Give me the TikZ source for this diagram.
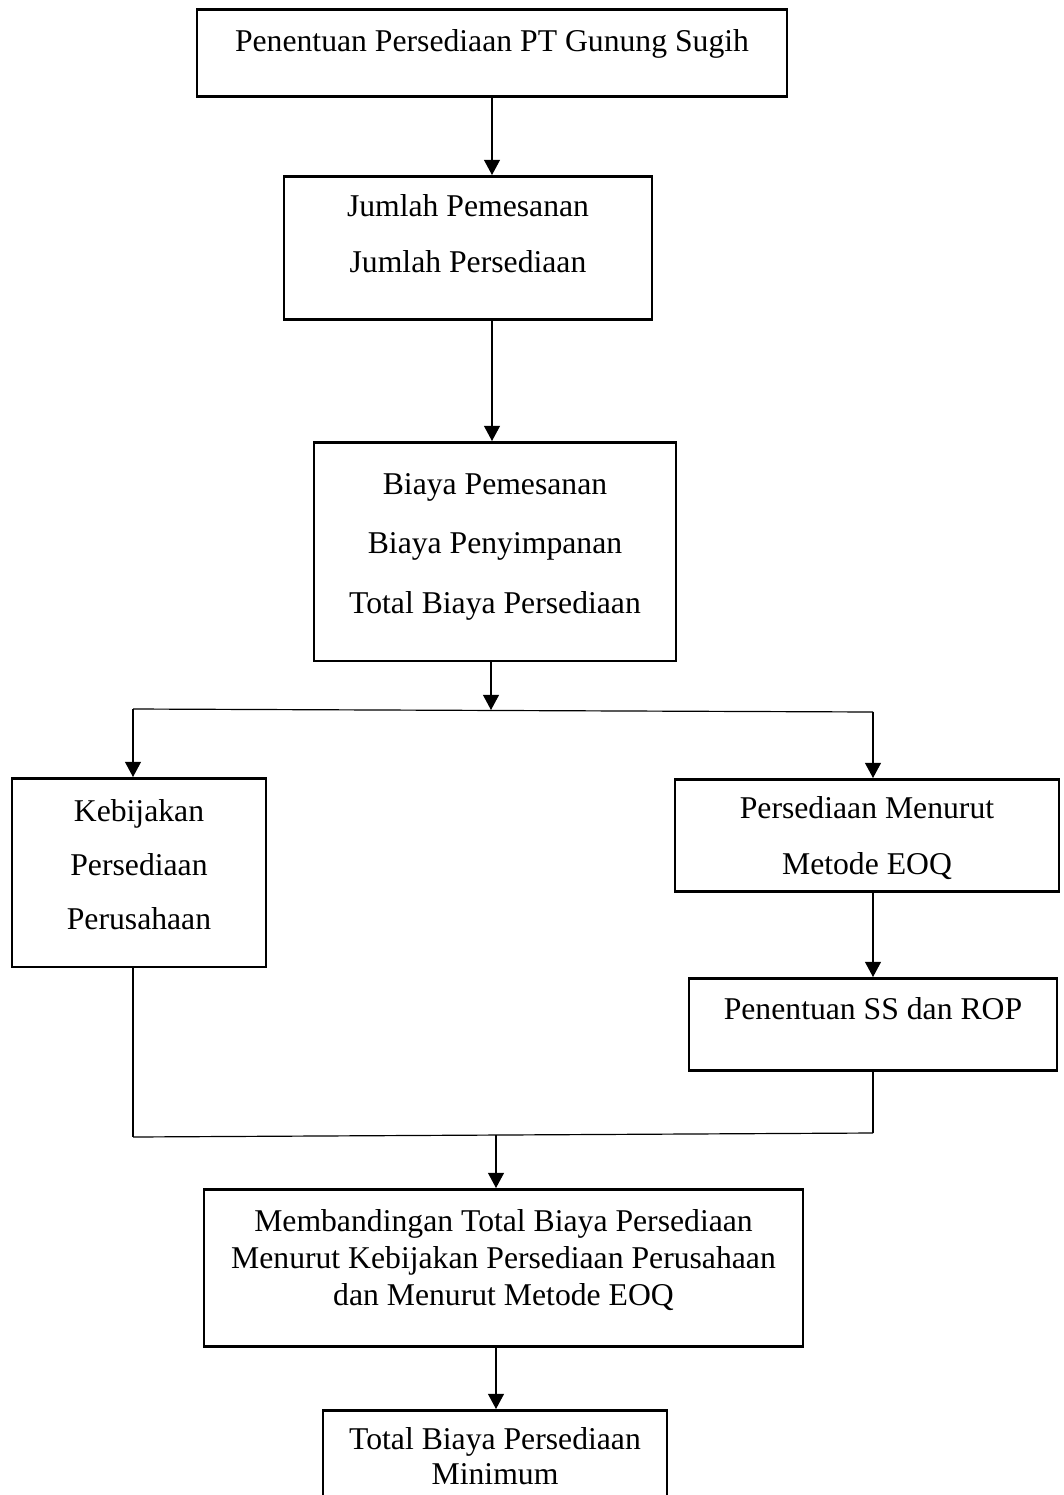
\documentclass[tikz,border=0pt]{standalone}
\usepackage{fontspec}
\setmainfont{Liberation Serif}
\usetikzlibrary{arrows.meta}
\newlength{\pxu}\setlength{\pxu}{0.3787pt}
\newcommand{\uprule}[1]{\rule{0pt}{#1\pxu}}
\newcommand{\dnrule}[1]{\rule[-#1\pxu]{0pt}{0pt}}
\begin{document}
\begin{tikzpicture}[x=0.3787pt,y=-0.3787pt,
	flowbox/.style={draw,line width=1pt,inner sep=0pt,anchor=north,align=center,font=\fontsize{12}{21.2}\selectfont},
	conn/.style={line width=0.45pt},
	arr/.style={conn,-{Triangle[length=5.7pt,width=6pt]}}]
	\useasboundingbox (0,0) rectangle (1063,1495);
	\node[flowbox,minimum width=590*\pxu] (judul) at (492,8) {\uprule{42}Penentuan Persediaan PT Gunung Sugih\dnrule{45}};
	\node[flowbox,minimum width=368*\pxu] (jumlah) at (468,175) {\uprule{40}Jumlah Pemesanan\\Jumlah Persediaan\dnrule{47}};
	\node[flowbox,minimum width=362*\pxu,font=\fontsize{12}{22.5}\selectfont] (biaya) at (495,441)
		{\uprule{52}Biaya Pemesanan\\Biaya Penyimpanan\\Total Biaya Persediaan\dnrule{48}};
	\node[flowbox,minimum width=254*\pxu,font=\fontsize{12}{20.4}\selectfont] (kebijakan) at (139,777)
		{\uprule{43}Kebijakan\\Persediaan\\Perusahaan\dnrule{38}};
	\node[flowbox,minimum width=384*\pxu] (eoq) at (867,778) {\uprule{39}Persediaan Menurut\\Metode EOQ\dnrule{17}};
	\node[flowbox,minimum width=368*\pxu] (ssrop) at (873,977) {\uprule{41}Penentuan SS dan ROP\dnrule{51}};
	\node[flowbox,minimum width=599*\pxu,font=\fontsize{12}{14}\selectfont] (banding) at (503.5,1188)
		{\uprule{42}Membandingan Total Biaya Persediaan\\Menurut Kebijakan Persediaan Perusahaan\\dan Menurut Metode EOQ\dnrule{41}};
	\node[flowbox,minimum width=344*\pxu,font=\fontsize{12}{13.3}\selectfont] (minimum) at (495,1409)
		{\uprule{39}Total Biaya Persediaan\\Minimum\dnrule{47}};
	% cabang dan gabungan
	\coordinate (split) at (491,710);
	\coordinate (splitL) at (133,709);
	\coordinate (splitR) at (873,712);
	\coordinate (joinL) at (133,1137);
	\coordinate (joinR) at (873,1133);
	\coordinate (join) at (496,1135);
	\draw[arr] (judul.south) -- (judul.south |- jumlah.north);
	\draw[arr] (judul.south |- jumlah.south) -- (judul.south |- biaya.north);
	\draw[arr] (split |- biaya.south) -- (split);
	\draw[conn] (splitL) -- (splitR);
	\draw[arr] (splitL) -- (splitL |- kebijakan.north);
	\draw[arr] (splitR) -- (splitR |- eoq.north);
	\draw[arr] (splitR |- eoq.south) -- (ssrop.north);
	\draw[conn] (splitL |- kebijakan.south) -- (joinL);
	\draw[conn] (ssrop.south) -- (joinR);
	\draw[conn] (joinL) -- (joinR);
	\draw[arr] (join) -- (join |- banding.north);
	\draw[arr] (join |- banding.south) -- (join |- minimum.north);
\end{tikzpicture}
\end{document}
